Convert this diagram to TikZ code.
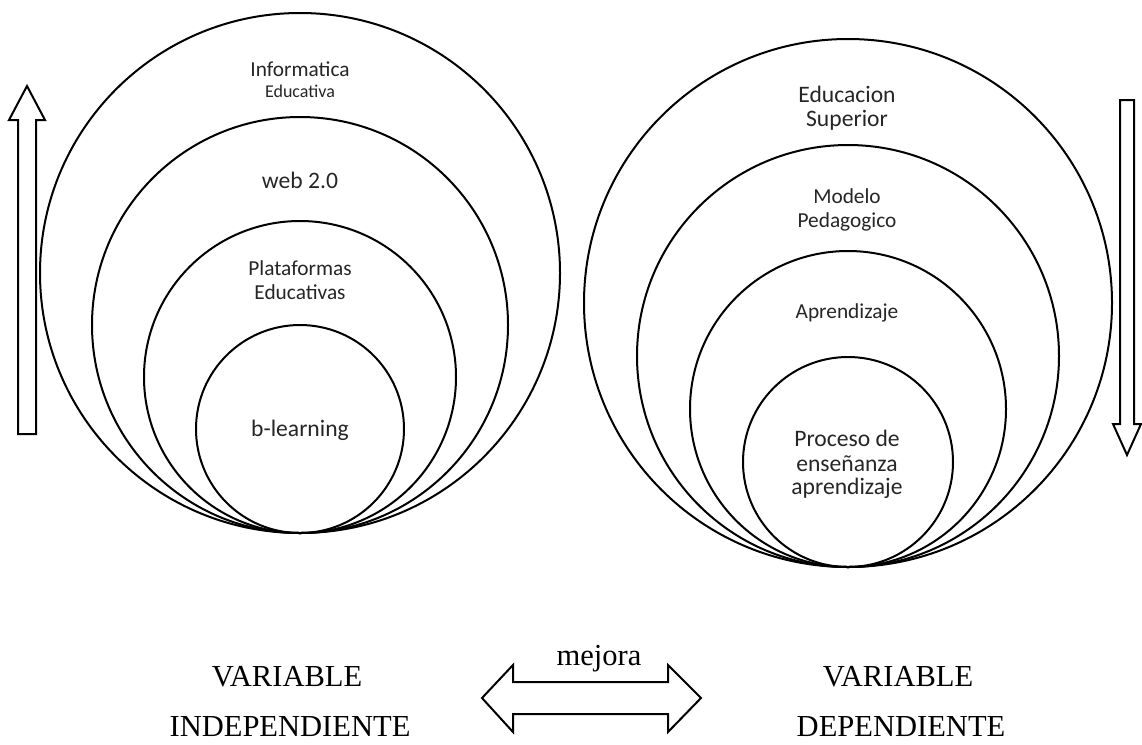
\documentclass[tikz,border=0pt]{standalone}
\usepackage{fontspec}
\setmainfont{Liberation Serif}
\newfontfamily\calibrifont{Carlito}
\definecolor{c000000}{RGB}{0,0,0}
\definecolor{c262626}{RGB}{38,38,38}
\def \globalscale {1.000000}
\def \smallsize {\fontsize{13.5}{16}\selectfont}
\def \midsize {\fontsize{16}{19}\selectfont}
\def \bigsize {\fontsize{17.7}{21}\selectfont}
\def \varsize {\fontsize{22.9}{27}\selectfont}

\begin{document}
\begin{tikzpicture}[y=-0.75pt, x=0.75pt, yscale=\globalscale,xscale=\globalscale, every node/.append style={scale=\globalscale}, inner sep=0pt, outer sep=0pt]
  \path[use as bounding box,fill=white] (0.0, 0.0) rectangle (1142.0, 744.0);

  % variable independiente: circulos
  \path[draw=c000000,line width=1.5pt] (300.0, 273.0) circle (260.0);
  \path[draw=c000000,line width=1.5pt] (300.0, 325.0) circle (208.0);
  \path[draw=c000000,line width=1.5pt] (300.0, 377.0) circle (156.0);
  \path[draw=c000000,line width=1.5pt] (300.0, 429.0) circle (104.0);

  % variable dependiente: circulos
  \path[draw=c000000,line width=1.5pt] (848.0, 303.0) circle (264.0);
  \path[draw=c000000,line width=1.5pt] (848.0, 356.0) circle (211.0);
  \path[draw=c000000,line width=1.5pt] (848.0, 409.0) circle (158.0);
  \path[draw=c000000,line width=1.5pt] (848.0, 462.0) circle (105.0);

  % flechas
  \path[draw=c000000,fill=white,line join=miter,line width=1.5pt] (18.0, 434.0) --
  (18.0, 120.0) -- (9.0, 120.0) -- (27.0, 86.0) -- (45.0, 120.0) -- (36.0, 120.0)
  -- (36.0, 434.0) -- cycle;

  \path[draw=c000000,fill=white,line join=miter,line width=1.5pt] (1120.0, 100.0)
  -- (1120.0, 424.0) -- (1113.0, 424.0) -- (1127.0, 455.0) -- (1141.0, 424.0) --
  (1134.0, 424.0) -- (1134.0, 100.0) -- cycle;

  \path[draw=c000000,fill=white,line join=miter,line width=1.5pt] (482.0, 698.0)
  -- (513.0, 665.0) -- (513.0, 682.0) -- (668.0, 682.0) -- (668.0, 665.0) --
  (701.0, 698.0) -- (668.0, 732.0) -- (668.0, 714.0) -- (513.0, 714.0) --
  (513.0, 732.0) -- cycle;

  % textos
  \node[text=c262626,anchor=base,font=\calibrifont\midsize] (textinformatica) at (300.0, 76.0){Informatica};
  \node[text=c262626,anchor=base,font=\calibrifont\smallsize] (texteducativa) at (300.0, 97.0){Educativa};
  \node[text=c262626,anchor=base,font=\calibrifont\bigsize] (textweb) at (300.0, 188.0){web 2.0};
  \node[text=c262626,anchor=base,font=\calibrifont\midsize] (textplataformas) at (300.0, 275.0){Plataformas};
  \node[text=c262626,anchor=base,font=\calibrifont\midsize] (texteducativas) at (300.0, 299.0){Educativas};
  \node[text=c262626,anchor=base,font=\calibrifont\bigsize] (textblearning) at (300.0, 436.0){b-learning};

  \node[text=c262626,anchor=base,font=\calibrifont\bigsize] (texteducacion) at (847.0, 102.0){Educacion};
  \node[text=c262626,anchor=base,font=\calibrifont\bigsize] (textsuperior) at (847.0, 126.0){Superior};
  \node[text=c262626,anchor=base,font=\calibrifont\midsize] (textmodelo) at (847.0, 203.0){Modelo};
  \node[text=c262626,anchor=base,font=\calibrifont\midsize] (textpedagogico) at (847.0, 227.0){Pedagogico};
  \node[text=c262626,anchor=base,font=\calibrifont\midsize] (textaprendizaje) at (847.0, 318.0){Aprendizaje};
  \node[text=c262626,anchor=base,font=\calibrifont\bigsize] (textproceso) at (847.0, 446.0){Proceso de};
  \node[text=c262626,anchor=base,font=\calibrifont\bigsize] (textensenanza) at (847.0, 471.0){enseñanza};
  \node[text=c262626,anchor=base,font=\calibrifont\bigsize] (textaprendizajeb) at (847.0, 494.0){aprendizaje};

  \node[text=c000000,anchor=base,font=\varsize] (textvariablei) at (287.0, 686.0){VARIABLE};
  \node[text=c000000,anchor=base,font=\varsize,text depth=0pt] (textindependiente) at (290.0, 736.0){INDEPENDIENTE};
  \node[text=c000000,anchor=base,font=\varsize] (textmejora) at (599.0, 665.0){mejora};
  \node[text=c000000,anchor=base,font=\varsize] (textvariabled) at (898.0, 686.0){VARIABLE};
  \node[text=c000000,anchor=base,font=\varsize,text depth=0pt] (textdependiente) at (901.0, 736.0){DEPENDIENTE};
\end{tikzpicture}
\end{document}
